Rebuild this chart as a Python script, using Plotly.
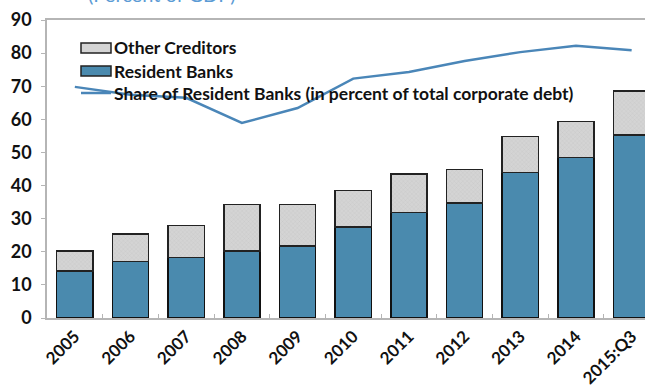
import plotly.graph_objects as go

categories = ["2005", "2006", "2007", "2008", "2009", "2010", "2011", "2012", "2013", "2014", "2015:Q3"]
resident_banks = [14.2, 17.0, 18.2, 20.2, 21.7, 27.5, 31.8, 34.7, 43.9, 48.4, 55.3]
totals = [20.3, 25.3, 27.9, 34.3, 34.3, 38.5, 43.5, 44.9, 54.8, 59.4, 68.6]
other_creditors = [round(t - r, 1) for t, r in zip(totals, resident_banks)]
share_resident = [69.8, 67.4, 66.5, 58.9, 63.4, 72.3, 74.3, 77.6, 80.3, 82.2, 80.9]
y_ticks = [0, 10, 20, 30, 40, 50, 60, 70, 80, 90]

W, H = 645, 390
ML, MT, MB, MR = 47, 20, 72, 0
PW, PH = W - ML - MR, H - MT - MB

# helpers: page-pixel coordinates -> paper coordinates
def px(x):
    return (x - ML) / PW

def py(y):
    return (H - MB - y) / PH

FONT = "Lato"
BLUE = "#4a8aae"
LINE = "#4a86b8"

fig = go.Figure()
fig.add_trace(go.Bar(x=categories, y=resident_banks, name="Resident Banks",
                     marker=dict(color=BLUE, line=dict(color="#111111", width=1.5)),
                     showlegend=False))
fig.add_trace(go.Bar(x=categories, y=other_creditors, name="Other Creditors",
                     marker=dict(color="#d4d4d4", line=dict(color="#222222", width=1.5),
                                 pattern=dict(shape="x", size=3, solidity=0.15, fgcolor="#a8a8a8")),
                     showlegend=False))
fig.add_trace(go.Scatter(x=categories, y=share_resident, mode="lines",
                         name="Share of Resident Banks (in percent of total corporate debt)",
                         line=dict(color=LINE, width=2.5), showlegend=False))

# manual legend
legend_rows = [
    ("Other Creditors", "box_grey", 48),
    ("Resident Banks", "box_blue", 71),
    ("Share of Resident Banks (in percent of total corporate debt)", "line", 93),
]
shapes = []
annotations = []
for text, kind, yc in legend_rows:
    if kind == "box_grey":
        shapes.append(dict(type="rect", xref="paper", yref="paper", x0=px(81), x1=px(111),
                           y0=py(yc - 5), y1=py(yc + 5), fillcolor="#d4d4d4",
                           line=dict(color="#222222", width=1.5)))
    elif kind == "box_blue":
        shapes.append(dict(type="rect", xref="paper", yref="paper", x0=px(81), x1=px(111),
                           y0=py(yc - 5), y1=py(yc + 5), fillcolor=BLUE,
                           line=dict(color="#222222", width=1.5)))
    else:
        shapes.append(dict(type="line", xref="paper", yref="paper", x0=px(81), x1=px(111),
                           y0=py(yc), y1=py(yc), line=dict(color=LINE, width=2.5)))
    annotations.append(dict(text=text, xref="paper", yref="paper", x=px(112), y=py(yc),
                            xanchor="left", yanchor="middle", showarrow=False,
                            font=dict(family=FONT, size=17.5, color="#111111", weight="bold")))

annotations.append(dict(text="(Percent of GDP)", xref="paper", yref="paper", x=px(86), y=py(-6),
                        xanchor="left", yanchor="middle", showarrow=False,
                        font=dict(family=FONT, size=20, color="#5b9bd5")))
annotations.append(dict(text="Sources: BRSA; and CBRT.", xref="paper", yref="paper", x=px(38), y=py(386),
                        xanchor="left", yanchor="top", showarrow=False,
                        font=dict(family=FONT, size=15, color="#111111")))

fig.update_layout(
    width=W, height=H,
    margin=dict(l=ML, r=MR, t=MT, b=MB, pad=0),
    barmode="stack", bargap=0.35,
    plot_bgcolor="white", paper_bgcolor="white",
    showlegend=False,
    shapes=shapes, annotations=annotations,
    xaxis=dict(range=[-0.5, 10.24], showgrid=False, showline=True, linecolor="#b5b5b5", linewidth=1.5,
               mirror=True, ticks="inside", ticklen=4, tickcolor="#b5b5b5", tickson="boundaries",
               automargin=False, tickangle=-45,
               tickfont=dict(family=FONT, size=17, color="#111111", weight="bold")),
    yaxis=dict(range=[0, 90], tickvals=y_ticks, showgrid=False, showline=True, linecolor="#b5b5b5",
               linewidth=1.5, ticks="outside", ticklen=4, tickcolor="#b5b5b5", zeroline=False,
               automargin=False, ticklabelstandoff=6,
               tickfont=dict(family=FONT, size=18, color="#111111", weight="bold")),
)

# remove the browser's default 8px body margin so the figure fills the window
fig.write_html("out.html", config={"displayModeBar": False},
               post_script="document.body.style.margin='0';document.body.style.overflow='hidden';")
